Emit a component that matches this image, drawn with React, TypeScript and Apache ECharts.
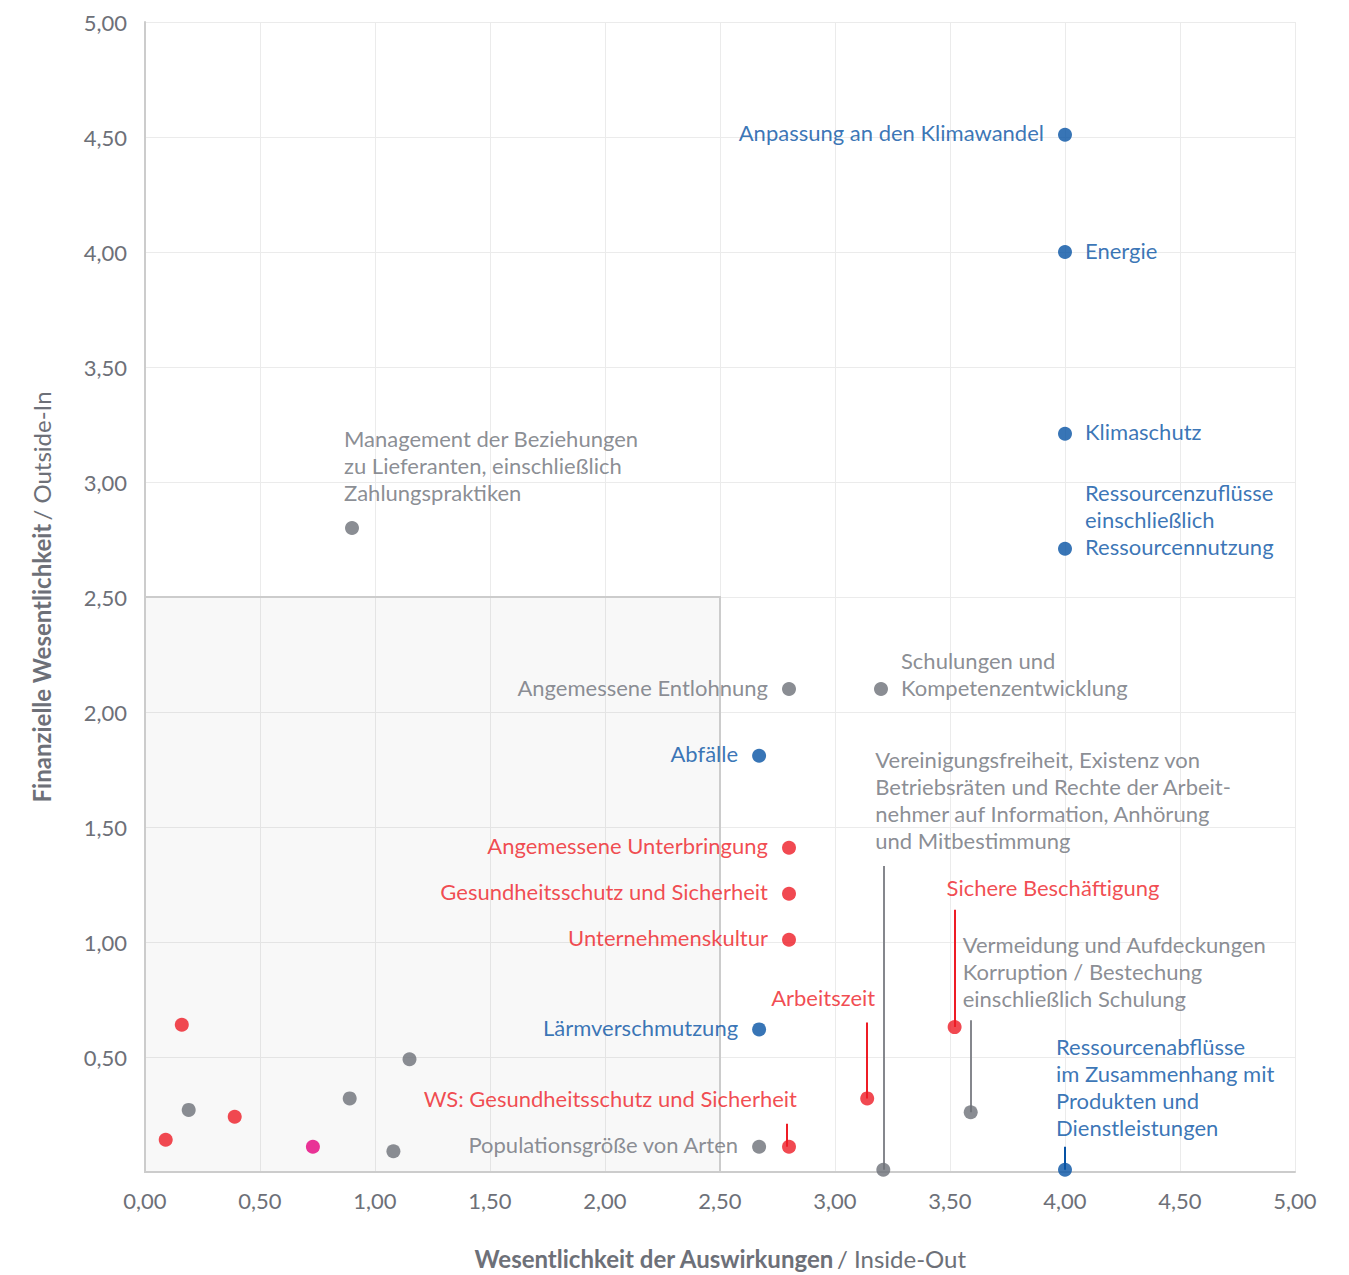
import React, { useEffect, useRef } from "react";
import * as echarts from "echarts";

// ---------- data ----------
const blueNames = [
  "Anpassung an den Klimawandel",
  "Energie",
  "Klimaschutz",
  "Ressourcenzuflüsse\neinschließlich\nRessourcennutzung",
  "Abfälle",
  "Lärmverschmutzung",
  "Ressourcenabflüsse\nim Zusammenhang mit\nProdukten und\nDienstleistungen",
];
const blueX = [4.0, 4.0, 4.0, 4.0, 2.67, 2.67, 4.0];
const blueY = [4.51, 4.0, 3.21, 2.71, 1.81, 0.62, 0.01];

const greyNames = [
  "Management der Beziehungen\nzu Lieferanten, einschließlich\nZahlungspraktiken",
  "Angemessene Entlohnung",
  "Schulungen und\nKompetenzentwicklung",
  "Vereinigungsfreiheit, Existenz von\nBetriebsräten und Rechte der Arbeit-\nnehmer auf Information, Anhörung\nund Mitbestimmung",
  "Vermeidung und Aufdeckungen\nKorruption / Bestechung\neinschließlich Schulung",
  "Populationsgröße von Arten",
  "",
  "",
  "",
  "",
];
const greyX = [0.9, 2.8, 3.2, 3.21, 3.59, 2.67, 0.19, 0.89, 1.15, 1.08];
const greyY = [2.8, 2.1, 2.1, 0.01, 0.26, 0.11, 0.27, 0.32, 0.49, 0.09];

const redNames = [
  "Angemessene Unterbringung",
  "Gesundheitsschutz und Sicherheit",
  "Unternehmenskultur",
  "Arbeitszeit",
  "Sichere Beschäftigung",
  "WS: Gesundheitsschutz und Sicherheit",
  "",
  "",
  "",
];
const redX = [2.8, 2.8, 2.8, 3.14, 3.52, 2.8, 0.16, 0.09, 0.39];
const redY = [1.41, 1.21, 1.01, 0.32, 0.63, 0.11, 0.64, 0.14, 0.24];

const magentaX = [0.73];
const magentaY = [0.11];

// leader lines: [x, yFrom, yTo]
const greyLeaders = [
  [3.21, 0.01, 1.33],
  [3.59, 0.26, 0.66],
];
const redLeaders = [
  [3.14, 0.32, 0.65],
  [3.52, 0.63, 1.14],
  [2.79, 0.11, 0.21],
];
const blueLeaders = [[4.0, 0.01, 0.11]];

// shaded threshold area
const threshold = 2.5;

// ---------- styling ----------
const FONT = "Lato";
const BLUE = "#0652a4";
const GREY = "#6d7078";
const RED = "#ee1c25";
const MAGENTA = "#e5007d";
const TEXT_GREY = "#6d7078";
const LABEL_SIZE = 22;

// label layout (pixels, relative to point centre)
type LL = { align: "left" | "right"; dx: number; dy: number };
const L: LL = { align: "right", dx: -21, dy: -2 };
const R: LL = { align: "left", dx: 20, dy: -2 };
const labelLayout: Record<string, LL> = {
  "Anpassung an den Klimawandel": L,
  Energie: R,
  Klimaschutz: R,
  "Ressourcenzuflüsse\neinschließlich\nRessourcennutzung": { align: "left", dx: 20, dy: -29 },
  "Abfälle": L,
  "Lärmverschmutzung": L,
  "Ressourcenabflüsse\nim Zusammenhang mit\nProdukten und\nDienstleistungen": { align: "left", dx: -9, dy: -83 },
  "Management der Beziehungen\nzu Lieferanten, einschließlich\nZahlungspraktiken": { align: "left", dx: -8, dy: -63 },
  "Angemessene Entlohnung": L,
  "Schulungen und\nKompetenzentwicklung": { align: "left", dx: 20, dy: -15.5 },
  "Vereinigungsfreiheit, Existenz von\nBetriebsräten und Rechte der Arbeit-\nnehmer auf Information, Anhörung\nund Mitbestimmung": { align: "left", dx: -8, dy: -370 },
  "Vermeidung und Aufdeckungen\nKorruption / Bestechung\neinschließlich Schulung": { align: "left", dx: -8, dy: -141 },
  "Populationsgröße von Arten": L,
  "Angemessene Unterbringung": L,
  "Gesundheitsschutz und Sicherheit": L,
  Unternehmenskultur: L,
  Arbeitszeit: { align: "right", dx: 8, dy: -101 },
  "Sichere Beschäftigung": { align: "left", dx: -8, dy: -140 },
  "WS: Gesundheitsschutz und Sicherheit": { align: "right", dx: 8, dy: -48 },
};

function buildPoints(names: string[], xs: number[], ys: number[], color: string) {
  return xs.map((x, i) => {
    const name = names[i] || "";
    const ll = labelLayout[name];
    return {
      name,
      value: [x, ys[i]],
      label: ll
        ? {
            show: true,
            position: "inside",
            align: ll.align,
            verticalAlign: "middle",
            offset: [ll.dx, ll.dy],
            formatter: name,
            color,
            fontFamily: FONT,
            fontSize: LABEL_SIZE,
            lineHeight: 27,
          }
        : { show: false },
    };
  });
}

function leaderLines(list: number[][]) {
  return list.map(([x, y1, y2]) => [{ coord: [x, y1] }, { coord: [x, y2] }]);
}

const fmt = (v: number) => v.toFixed(2).replace(".", ",");

export default function App() {
  const ref = useRef<HTMLDivElement>(null);
  useEffect(() => {
    if (!ref.current) return;
    const chart = echarts.init(ref.current, null, { renderer: "svg" });
    const scatterBase = {
      type: "scatter",
      symbol: "circle",
      symbolSize: 14,
      z: 5,
    };
    const axisName = {
      rich: {
        b: { fontFamily: FONT, fontSize: 24, fontWeight: "bold", color: TEXT_GREY },
        n: { fontFamily: FONT, fontSize: 24, color: TEXT_GREY },
      },
    };
    chart.setOption({
      animation: false,
      backgroundColor: "#ffffff",
      textStyle: { fontFamily: FONT },
      grid: { left: 145, right: 54, top: 22, bottom: 102, containLabel: false },
      xAxis: {
        type: "value",
        min: 0,
        max: 5,
        interval: 0.5,
        name: "{b|Wesentlichkeit der Auswirkungen} {n|/ Inside-Out}",
        nameLocation: "middle",
        nameGap: 74,
        nameTextStyle: axisName,
        axisLine: { show: true, lineStyle: { color: "#cccccc", width: 2 } },
        axisTick: { show: false },
        axisLabel: {
          formatter: fmt,
          color: TEXT_GREY,
          fontFamily: FONT,
          fontSize: 22,
          margin: 17,
        },
        splitLine: { show: true, lineStyle: { color: "#ebebeb", width: 1 } },
      },
      yAxis: {
        type: "value",
        min: 0,
        max: 5,
        interval: 0.5,
        name: "{b|Finanzielle Wesentlichkeit} {n|/ Outside-In}",
        nameLocation: "middle",
        nameRotate: 90,
        nameGap: 92,
        nameTextStyle: axisName,
        axisLine: { show: true, lineStyle: { color: "#cccccc", width: 2 } },
        axisTick: { show: false },
        axisLabel: {
          formatter: (v: number) => (v === 0 ? "" : fmt(v)),
          color: TEXT_GREY,
          fontFamily: FONT,
          fontSize: 22,
          margin: 18,
        },
        splitLine: { show: true, lineStyle: { color: "#ebebeb", width: 1 } },
      },
      series: [
        {
          type: "scatter",
          data: [],
          silent: true,
          z: 1,
          markArea: {
            silent: true,
            itemStyle: {
              color: "rgba(0,0,0,0.028)",
              borderColor: "#cccccc",
              borderWidth: 2,
            },
            data: [[{ coord: [0, 0] }, { coord: [threshold, threshold] }]],
          },
        },
        {
          ...scatterBase,
          name: "grey",
          itemStyle: { color: GREY },
          data: buildPoints(greyNames, greyX, greyY, TEXT_GREY),
          markLine: {
            silent: true,
            symbol: ["none", "none"],
            label: { show: false },
            lineStyle: { color: "#85878d", width: 2, type: "solid" },
            data: leaderLines(greyLeaders),
          },
        },
        {
          ...scatterBase,
          name: "red",
          itemStyle: { color: RED },
          data: buildPoints(redNames, redX, redY, RED),
          markLine: {
            silent: true,
            symbol: ["none", "none"],
            label: { show: false },
            lineStyle: { color: RED, width: 2, type: "solid" },
            data: leaderLines(redLeaders),
          },
        },
        {
          ...scatterBase,
          name: "blue",
          itemStyle: { color: BLUE },
          data: buildPoints(blueNames, blueX, blueY, BLUE),
          markLine: {
            silent: true,
            symbol: ["none", "none"],
            label: { show: false },
            lineStyle: { color: BLUE, width: 2, type: "solid" },
            data: leaderLines(blueLeaders),
          },
        },
        {
          ...scatterBase,
          name: "magenta",
          itemStyle: { color: MAGENTA },
          data: magentaX.map((x, i) => [x, magentaY[i]]),
        },
      ],
    });
    return () => chart.dispose();
  }, []);
  return (
    <div
      ref={ref}
      style={{ position: "absolute", left: 0, top: 0, width: 1349, height: 1275 }}
    />
  );
}
